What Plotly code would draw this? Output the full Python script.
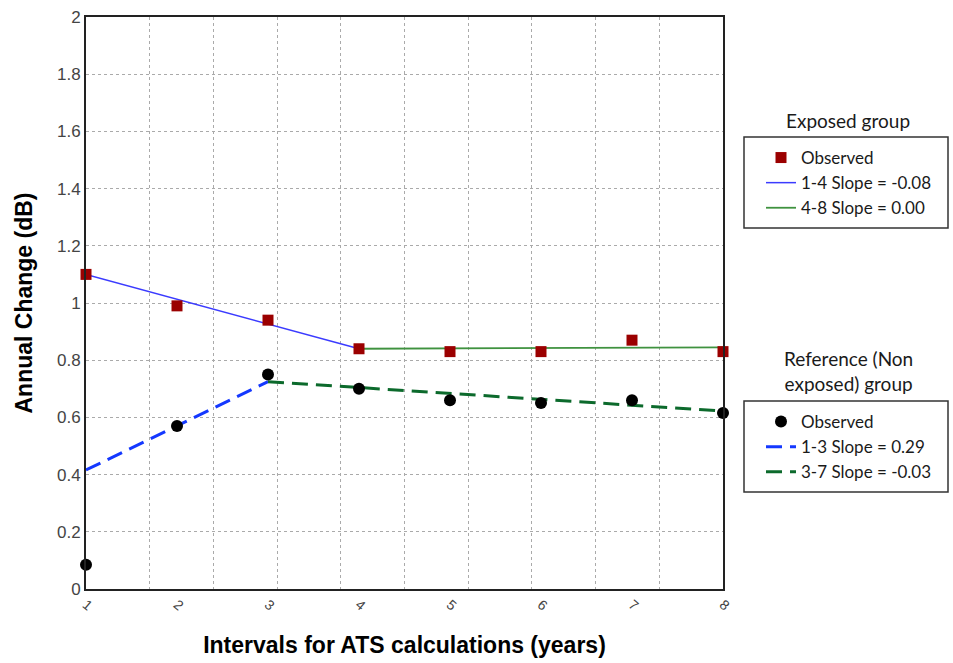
import plotly.graph_objects as go

# ---- data ----
intervals = [1, 2, 3, 4, 5, 6, 7, 8]
tick_labels = ["1", "2", "3", "4", "5", "6", "7", "8"]
exposed_obs = [1.10, 0.99, 0.94, 0.84, 0.83, 0.83, 0.87, 0.83]
reference_obs = [0.085, 0.57, 0.75, 0.70, 0.66, 0.65, 0.66, 0.615]

exp_fit1_x = [1, 4]
exp_fit1_y = [1.10, 0.84]
exp_fit2_x = [4, 8]
exp_fit2_y = [0.84, 0.845]

ref_fit1_x = [1, 3]
ref_fit1_y = [0.416, 0.725]
ref_fit2_x = [3, 8]
ref_fit2_y = [0.725, 0.622]

y_ticks = [0, 0.2, 0.4, 0.6, 0.8, 1, 1.2, 1.4, 1.6, 1.8, 2]
y_tick_labels = ["0", "0.2", "0.4", "0.6", "0.8", "1", "1.2", "1.4", "1.6", "1.8", "2"]

fig = go.Figure()

# Exposed group
fig.add_trace(go.Scatter(x=exp_fit1_x, y=exp_fit1_y, mode="lines",
                         line=dict(color="#3b3bff", width=1.5),
                         name="1-4 Slope = -0.08", legend="legend", legendrank=2))
fig.add_trace(go.Scatter(x=exp_fit2_x, y=exp_fit2_y, mode="lines",
                         line=dict(color="#3f923f", width=1.8),
                         name="4-8 Slope = 0.00", legend="legend", legendrank=3))
fig.add_trace(go.Scatter(x=intervals, y=exposed_obs, mode="markers",
                         marker=dict(symbol="square", size=11, color="#9b0000"),
                         cliponaxis=False,
                         name="Observed", legend="legend", legendrank=1))

# Reference group
fig.add_trace(go.Scatter(x=ref_fit1_x, y=ref_fit1_y, mode="lines",
                         line=dict(color="#1438ff", width=3, dash="16px,8px"),
                         name="1-3 Slope = 0.29", legend="legend2", legendrank=2))
fig.add_trace(go.Scatter(x=ref_fit2_x, y=ref_fit2_y, mode="lines",
                         line=dict(color="#0c6a2c", width=3, dash="16px,8px"),
                         name="3-7 Slope = -0.03", legend="legend2", legendrank=3))
fig.add_trace(go.Scatter(x=intervals, y=reference_obs, mode="markers",
                         marker=dict(symbol="circle", size=12, color="black"),
                         cliponaxis=False,
                         name="Observed", legend="legend2", legendrank=1))

L, R, T, B = 86, 230, 17, 74
W, H = 953, 663
pw, ph = W - L - R, H - T - B

def px_x(p):
    return (p - L) / pw

def px_y(p):
    return (H - B - p) / ph

legend_font = dict(family="Lato, Noto Sans, sans-serif", size=17, color="#1a1a1a")

fig.update_layout(
    width=W, height=H,
    margin=dict(l=L, r=R, t=T, b=B, autoexpand=False),
    paper_bgcolor="white", plot_bgcolor="white",
    font=dict(family="Liberation Sans, Arial, sans-serif", color="#333"),
    legend=dict(x=px_x(761), y=px_y(140), xanchor="left", yanchor="top",
                bgcolor="rgba(0,0,0,0)", borderwidth=0, font=legend_font,
                traceorder="normal", itemwidth=30),
    legend2=dict(x=px_x(761), y=px_y(404), xanchor="left", yanchor="top",
                 bgcolor="rgba(0,0,0,0)", borderwidth=0, font=legend_font,
                 traceorder="normal", itemwidth=30),
    xaxis=dict(range=[1, 8], tickmode="array", tickvals=intervals, ticktext=tick_labels,
               tickangle=40, tickfont=dict(size=14, color="#444"),
               showgrid=False, zeroline=False,
               showline=True, linecolor="#222", linewidth=2, mirror=True,
               ticks="", ticklen=0,
               minor=dict(tickmode="linear", tick0=1, dtick=0.7, showgrid=True,
                          gridcolor="#aaaaaa", griddash="dot", gridwidth=1, ticklen=0),
               title=dict(text="<b>Intervals for ATS calculations (years)</b>",
                          font=dict(size=23, color="black"), standoff=24)),
    yaxis=dict(range=[0, 2], tickmode="array", tickvals=y_ticks, ticktext=y_tick_labels,
               tickfont=dict(size=17, color="#444"),
               showgrid=True, gridcolor="#aaaaaa", griddash="dot", gridwidth=1,
               zeroline=False,
               showline=True, linecolor="#222", linewidth=2, mirror=True,
               ticks="", ticklen=0,
               title=dict(text="<b>Annual Change (dB)</b>",
                          font=dict(size=23, color="black"), standoff=18)),
    shapes=[
        dict(type="rect", xref="paper", yref="paper",
             x0=px_x(744), x1=px_x(948), y0=px_y(228), y1=px_y(137),
             line=dict(color="#333", width=1.5), fillcolor="rgba(0,0,0,0)"),
        dict(type="rect", xref="paper", yref="paper",
             x0=px_x(744), x1=px_x(948), y0=px_y(492), y1=px_y(401),
             line=dict(color="#333", width=1.5), fillcolor="rgba(0,0,0,0)"),
    ],
    annotations=[
        dict(text="Exposed group", xref="paper", yref="paper",
             x=px_x(848), y=px_y(121), xanchor="center", yanchor="middle",
             showarrow=False, font=dict(family="Lato, Noto Sans, sans-serif", size=19, color="#1a1a1a")),
        dict(text="Reference (Non<br>exposed) group", xref="paper", yref="paper",
             x=px_x(848), y=px_y(371), xanchor="center", yanchor="middle",
             showarrow=False, font=dict(family="Lato, Noto Sans, sans-serif", size=19, color="#1a1a1a")),
    ],
)

fig.write_html("out.html",
               config={"displayModeBar": False},
               post_script="document.body.style.margin='0';document.body.style.overflow='hidden';")
